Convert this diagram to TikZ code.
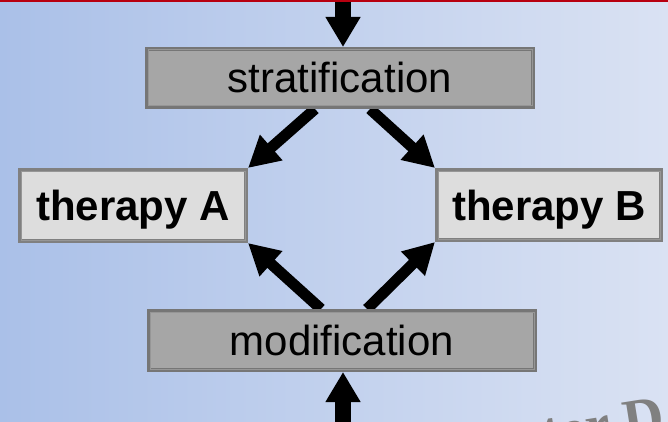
\documentclass[tikz,border=0pt]{standalone}
\usepackage{fontspec}
\setmainfont{Liberation Sans}
\newfontfamily\wmfont{Liberation Serif}
\usetikzlibrary{arrows.meta,calc}
\pgfdeclarelayer{bg}
\pgfsetlayers{bg,main}
\definecolor{bgleft}{RGB}{170,192,232}
\definecolor{bgright}{RGB}{218,226,243}
\definecolor{topred}{RGB}{184,0,16}
\definecolor{boxgray}{RGB}{166,166,166}
\definecolor{boxlight}{RGB}{221,221,221}
\definecolor{boxedge}{RGB}{118,118,118}
\definecolor{edgelight}{RGB}{128,128,128}
\definecolor{innerline}{RGB}{150,150,150}
\definecolor{wmgray}{RGB}{128,128,128}
\begin{document}
\begin{tikzpicture}[x=1pt,y=-1pt,
  box/.style={draw=boxedge, line width=4pt, inner sep=0pt, text height=30pt, text depth=0pt},
  graybox/.style={box, fill=boxgray, font=\fontsize{42}{48}\selectfont},
  lightbox/.style={box, draw=edgelight, fill=boxlight, font=\fontsize{42}{48}\selectfont\bfseries},
  innerframe/.style={draw=innerline, line width=1pt},
  bigarrow/.style={line width=16pt, -{Triangle[width=33pt,length=30pt]}},
  diagarrow/.style={line width=11pt, -{Triangle[width=32pt,length=31pt]}}]
\useasboundingbox (0,0) rectangle (668,422);
\clip (0,0) rectangle (668,422);
\begin{pgfonlayer}{bg}
  \shade[left color=bgleft, right color=bgright] (0,0) rectangle (668,422);
  \fill[topred] (0,0) rectangle (668,2.5);
\end{pgfonlayer}

% boxes
\node[graybox, minimum width=386pt, minimum height=58pt] (strat) at (340,78) {stratification};
\node[lightbox, minimum width=226pt, minimum height=71pt] (thA) at (133,205.5) {therapy A};
\node[lightbox, minimum width=224pt, minimum height=70pt] (thB) at (549,205) {therapy B};
\node[graybox, minimum width=386pt, minimum height=59pt] (modif) at (342,340.5) {modification};

\foreach \n in {strat,thA,thB,modif}{
  \draw[innerframe] ($(\n.north west)+(3,3)$) rectangle ($(\n.south east)+(-3,-3)$);
}

% watermark
\node[rotate=9, anchor=base west, text=wmgray, inner sep=0pt,
      font=\wmfont\bfseries\fontsize{56}{56}\selectfont] (wm) at (545,452) {ter D};

% connectors (behind boxes)
\coordinate (topin) at (343,2.5);
\coordinate (botin) at (343,422);
\begin{pgfonlayer}{bg}
  \draw[bigarrow] (topin) -- (strat.north -| topin);
  \draw[bigarrow] (botin) -- (modif.south -| botin);
  \draw[diagarrow] ($(strat.south)+(-25,0)$) -- (thA.north east);
  \draw[diagarrow] ($(strat.south)+(30,0)$) -- (thB.north west);
  \draw[diagarrow] ($(modif.north)+(-21,0)$) -- (thA.south east);
  \draw[diagarrow] ($(modif.north)+(25,0)$) -- (thB.south west);
\end{pgfonlayer}
\end{tikzpicture}
\end{document}
